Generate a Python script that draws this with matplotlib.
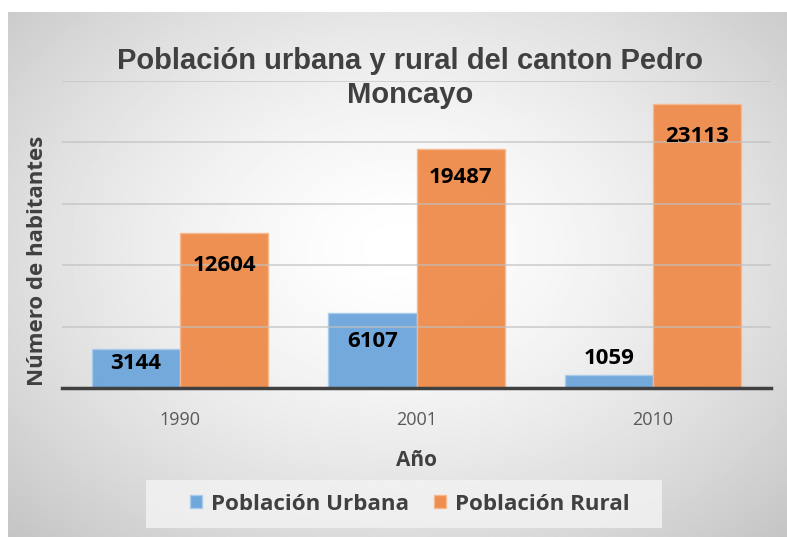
import numpy as np
import matplotlib
matplotlib.use("Agg")
import matplotlib.pyplot as plt
from matplotlib.patches import Patch, Rectangle

years = ["1990", "2001", "2010"]
urbana = [3144, 6107, 1059]
rural = [12604, 19487, 23113]
series_names = ["Población Urbana", "Población Rural"]
title = "Población urbana y rural del canton Pedro\nMoncayo"
xlabel = "Año"
ylabel = "Número de habitantes"

W, H = 787, 537
fig = plt.figure(figsize=(W / 100, H / 100), dpi=100)
fig.patch.set_facecolor("white")

# background radial gradient
bg = fig.add_axes([8 / W, 0, 1 - 8 / W, (H - 12) / H], zorder=-10)
ny, nx = 300, 440
yy, xx = np.mgrid[0:ny, 0:nx]
cx, cy = nx * 0.5, ny * 0.45
r = np.sqrt(((xx - cx) / (nx * 0.5)) ** 2 + ((yy - cy) / (ny * 0.55)) ** 2) / 1.41
val = 1 - 0.23 * np.clip(r, 0, 1) ** 1.5
bg.imshow(val, cmap="gray", vmin=0, vmax=1, aspect="auto", interpolation="bilinear")
bg.set_axis_off()

ax = fig.add_axes([62 / W, (H - 388) / H, (771 - 62) / W, (388 - 81) / H])
ax.set_facecolor("none")
x = np.arange(len(years))
bw = 0.373
blue = "#6fa7db"
orange = "#ef8d4e"
ax.bar(x - bw / 2, urbana, bw, color=blue, edgecolor="#a9cbeb", linewidth=1, zorder=2, alpha=0.97)
ax.bar(x + bw / 2, rural, bw, color=orange, edgecolor="#f6b88f", linewidth=1, zorder=2, alpha=0.97)

ax.set_xlim(-0.5, 2.5)
ax.set_ylim(0, 25000)
ax.set_yticks([5000, 10000, 15000, 20000, 25000])
ax.yaxis.grid(True, color="#c0c0c0", linewidth=1.1, zorder=3, alpha=0.8)
ax.set_axisbelow(False)
ax.tick_params(axis="y", left=False, labelleft=False)
ax.tick_params(axis="x", bottom=False, labelsize=13, labelcolor="#595959", pad=13)
ax.set_xticks(x)
ax.set_xticklabels(years, family="Open Sans")
for s in ["top", "right", "left"]:
    ax.spines[s].set_visible(False)
ax.spines["bottom"].set_color("#404040")
ax.spines["bottom"].set_linewidth(2.5)
ax.spines["bottom"].set_zorder(4)

label_font = dict(family="Open Sans", weight="bold", size=16, color="black", ha="center", va="center", zorder=5)
# offsets in pixels from bar top (negative = inside)
off_u = [-14, -28, 16]
off_r = [-32, -29, -32]
for xi, v, o in zip(x - bw / 2, urbana, off_u):
    ax.annotate(str(v), (xi, v), xytext=(0, o), textcoords="offset pixels", **label_font)
for xi, v, o in zip(x + bw / 2, rural, off_r):
    ax.annotate(str(v), (xi, v), xytext=(0, o), textcoords="offset pixels", **label_font)

fig.text(410 / W, 1 - 78 / H, title, ha="center", va="center", family="Liberation Sans",
         weight="bold", size=21, color="#404040", linespacing=1.3)
fig.text(417 / W, 1 - 460 / H, xlabel, ha="center", va="center", family="Open Sans",
         weight="bold", size=15, color="#404040")
fig.text(38 / W, 1 - 261 / H, ylabel, ha="center", va="center", rotation=90, family="Open Sans",
         weight="bold", size=16, color="#404040")

# legend background box
fig.patches.append(Rectangle((146 / W, 1 - 528 / H), (662 - 146) / W, 48 / H,
                             transform=fig.transFigure, facecolor="#f2f2f2", alpha=0.85,
                             edgecolor="none", zorder=0))
handles = [Patch(facecolor=blue, edgecolor="#a9cbeb"), Patch(facecolor=orange, edgecolor="#f6b88f")]
leg = fig.legend(handles, series_names, loc="center", bbox_to_anchor=(410 / W, 1 - 504 / H),
                 ncol=2, frameon=False,
                 prop=dict(family="Open Sans", weight="bold", size=16.1), labelcolor="#404040",
                 handlelength=0.55, handleheight=0.55, handletextpad=0.4, columnspacing=1.1)

fig.savefig("out.png", dpi=100)
